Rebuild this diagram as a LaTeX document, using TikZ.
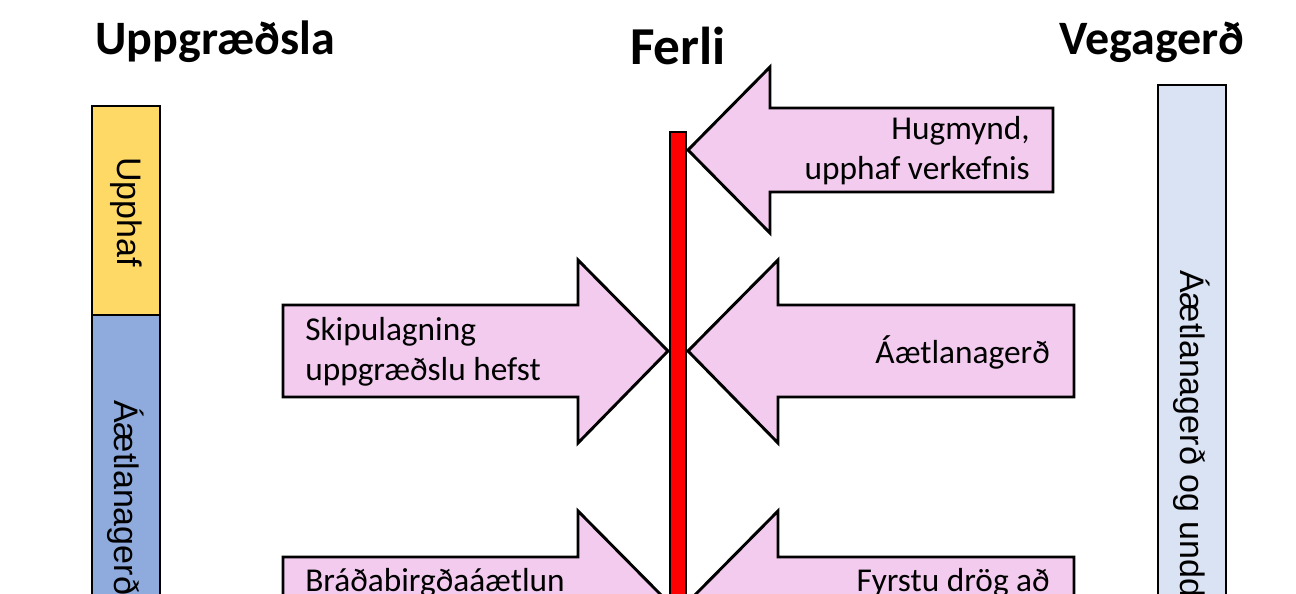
\documentclass[tikz,border=0pt]{standalone}
\usepackage{fontspec}
\setmainfont{Carlito}
\newfontfamily\barfont{Liberation Sans}
\usepackage{tikz}
\usetikzlibrary{positioning}
\definecolor{phasegold}{HTML}{FFD966}
\definecolor{phaseblue}{HTML}{8FAADC}
\definecolor{roadblue}{HTML}{DAE3F3}
\definecolor{steppink}{HTML}{F2CBEF}
\definecolor{lineRed}{HTML}{FF0000}

\begin{document}
\begin{tikzpicture}[
  x=0.75pt, y=-0.75pt,
  outline/.style={draw=black, line width=2.2pt, line join=miter},
  arrowbox/.style={outline, fill=steppink},
  coltitle/.style={font=\fontsize{36}{40}\selectfont\bfseries, inner sep=0pt},
  steptext/.style={font=\fontsize{25}{30}\selectfont, inner sep=0pt},
  bartext/.style={font=\barfont\fontsize{25.5}{30}\selectfont, rotate=-90, inner sep=0pt}
]
\useasboundingbox (0,0) rectangle (1296,593);
\clip (0,0) rectangle (1296,593);

% Column titles
\node[coltitle] (tUpp) at (215,42) {Uppgræðsla};
\node[coltitle, font=\fontsize{40}{44}\selectfont\bfseries] (tFerli) at (678,46) {Ferli};
\node[coltitle] (tVeg) at (1152,42) {Vegagerð};

% Left phase bar
\draw[outline, fill=phasegold] (92,106) rectangle (160,315);
\draw[outline, fill=phaseblue] (92,315) rectangle (160,720);
\node[bartext] (upphaf) at (126,212) {Upphaf};
\node[bartext, anchor=west] (aetlL) at (126,400) {Áætlanagerð};

% Right phase bar
\draw[outline, fill=roadblue] (1158,85) rectangle (1226,720);
\node[bartext, anchor=west] (aetlR) at (1192,270) {Áætlanagerð og undd};

% Process line
\draw[outline, fill=lineRed] (670,132) rectangle (686,720);

% Arrows from the right
\draw[arrowbox] (688,150) -- (770,67) -- (770,108) -- (1053,108) -- (1053,192)
  -- (770,192) -- (770,233) -- cycle;
\node[steptext, anchor=east, align=right] (hugmynd) at (1030,151) {Hugmynd,\\upphaf verkefnis};

\draw[arrowbox] (688,351) -- (778,260) -- (778,305) -- (1074,305) -- (1074,397)
  -- (778,397) -- (778,443) -- cycle;
\node[steptext, anchor=east] (aetlun) at (1050,352) {Áætlanagerð};

\draw[arrowbox] (688,602) -- (778,511) -- (778,557) -- (1074,557) -- (1074,649)
  -- (778,649) -- (778,694) -- cycle;
\node[steptext, anchor=east] (drog) at (1050,583) {Fyrstu drög að};

% Arrows from the left
\draw[arrowbox] (668,351) -- (578,260) -- (578,305) -- (283,305) -- (283,397)
  -- (578,397) -- (578,443) -- cycle;
\node[steptext, anchor=west, align=left] (skipul) at (305,352) {Skipulagning\\uppgræðslu hefst};

\draw[arrowbox] (668,602) -- (578,511) -- (578,557) -- (283,557) -- (283,649)
  -- (578,649) -- (578,694) -- cycle;
\node[steptext, anchor=west] (bradab) at (305,583) {Bráðabirgðaáætlun};

\end{tikzpicture}
\end{document}
